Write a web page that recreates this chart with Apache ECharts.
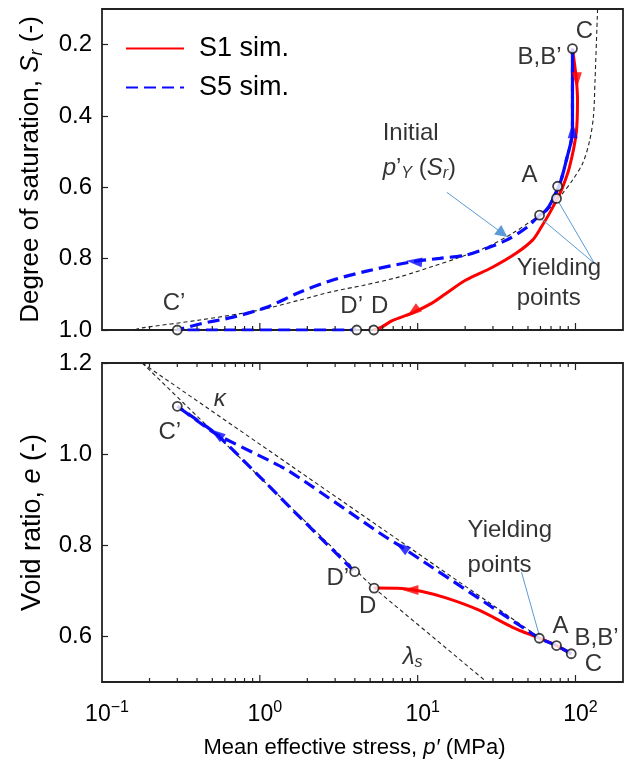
<!DOCTYPE html>
<html><head><meta charset="utf-8">
<script src="https://cdn.jsdelivr.net/npm/echarts@6/dist/echarts.min.js"></script>
<style>html,body{margin:0;padding:0;background:#fff}#c{width:629px;height:767px}</style>
</head><body><div id="c"></div>
<script>
// ---------------- data ----------------
const xMajorTicks = [1, 10, 100];
const xMinorTicks = [0.2,0.3,0.4,0.5,0.6,0.7,0.8,0.9,2,3,4,5,6,7,8,9,20,30,40,50,60,70,80,90];
const srTicks = [0.2, 0.4, 0.6, 0.8, 1.0];
const eTicks = [0.6, 0.8, 1.0, 1.2];

// Top panel: degree of saturation vs p'
const yieldCurveTop = [[138,0.10],[133,0.30],[130,0.40],[123,0.469],[111,0.533],[95.7,0.58],[82.8,0.617],[68.4,0.659],[53.4,0.692],[39.9,0.729],[27.3,0.768],[17.7,0.799],[12.4,0.822],[7.69,0.851],[4.5,0.875],[2.9,0.892],[1.79,0.916],[1.0,0.944],[0.417,0.972],[0.18,0.994],[0.16,1.0]];
const s1Top = [[95.7,0.211],[101,0.292],[103,0.357],[101,0.449],[91.5,0.544],[82.8,0.600],[75.8,0.636],[68.4,0.673],[60.6,0.712],[53.4,0.748],[42.0,0.785],[29.8,0.824],[20.2,0.860],[15.2,0.897],[12.4,0.924],[9.27,0.952],[6.9,0.974],[5.9,0.992],[5.27,1.0]];
const s5TopUp = [[59.2,0.678],[65.3,0.664],[71.3,0.636],[79.7,0.589],[87.5,0.524],[95.7,0.441],[95.7,0.357],[95.7,0.211]];
const s5TopDown = [[95.7,0.211],[95.7,0.357],[95.7,0.441],[87.5,0.524],[79.7,0.589],[71.3,0.636],[65.3,0.664],[59.2,0.678],[49.3,0.712],[36.5,0.748],[27.3,0.771],[20.2,0.790],[13.8,0.799],[8.9,0.810],[4.75,0.835],[2.9,0.860],[1.79,0.894],[1.107,0.936],[0.675,0.964],[0.417,0.983],[0.30,1.0],[4.11,1.0]];
const pointsTop = [[95.7,0.211],[77,0.597],[75.8,0.631],[59.2,0.678],[0.30,1.0],[4.11,1.0],[5.27,1.0]];
const s1ArrowsTop = [[102,0.30],[9.3,0.95]];
const s5ArrowsTop = [[96,0.44],[9.5,0.808]];

// Bottom panel: void ratio vs p'
const kappaLine = [[0.18,1.2],[59,0.598]];
const lambdaLine = [[0.18,1.2],[5.3,0.706],[27.4,0.5]];
const s1Bottom = [[94,0.562],[75.8,0.580],[59,0.596],[39.9,0.620],[24.7,0.657],[15.3,0.684],[10.5,0.699],[8.0,0.705],[5.3,0.706]];
const s5BottomUnload = [[94,0.562],[75.8,0.580],[59,0.596],[7.69,0.799],[5.74,0.827],[1.48,0.966],[0.535,1.043],[0.30,1.105]];
const s5BottomReload = [[0.30,1.105],[0.535,1.043],[1.79,0.862],[3.99,0.742]];
const pointsBottom = [[0.30,1.105],[3.99,0.742],[5.3,0.706],[59,0.596],[75.8,0.580],[94,0.562]];
const s1ArrowsBottom = [[9.0,0.702]];
const s5ArrowsBottom = [[7.9,0.797],[0.53,1.045]];

// annotation text anchors  [p, value, text, align]
const notesTop = [
  [114,0.164,'C','center'],[59.2,0.236,'B,B’','center'],[51.2,0.566,'A','center'],
  [6.0,0.449,'Initial','left'],[6.0,0.547,'{i|p}’{sub|Y} ({i|S}{sub|r})','left'],
  [42.4,0.827,'Yielding','left'],[42.4,0.91,'points','left'],
  [0.286,0.924,'C’','center'],[3.82,0.933,'D’','center'],[5.74,0.933,'D','center']
];
const notesBottom = [
  [0.558,1.121,'{i|κ}','center'],[0.269,1.048,'C’','center'],[3.12,0.728,'D’','center'],
  [4.83,0.666,'D','center'],[9.29,0.554,'{i|λ}{sub|s}','center'],
  [20.7,0.832,'Yielding','left'],[20.7,0.757,'points','left'],
  [80.4,0.622,'A','center'],[136,0.596,'B,B’','center'],[130,0.538,'C','center']
];
const pointerTop = [[[15.3,0.614],[34.5,0.729]]];
const leaderTop = [[[131.8,0.813],[75.8,0.631]],[[131.8,0.813],[59.2,0.684]]];
const leaderBottom = [[[45.5,0.741],[59,0.602]]];

// ---------------- chart ----------------
const FONT = '"Liberation Sans", Arial, sans-serif';
const RED = '#ff0000', BLUE = '#0a0aff', ANN = '#5b9bd5', INK = '#000', FRAME = '#222';
const chart = echarts.init(document.getElementById('c'));

function supLabel(v){
  const l = Math.log10(v), e = Math.round(l);
  if (Math.abs(l - e) > 1e-6 || e > 2) return '';
  return '{b|10}{s|' + (e < 0 ? '−' + (-e) : e) + '}';
}
function tickSeries(xi, yi, edges){
  const data = xMajorTicks.map(v => [v, 1]).concat(xMinorTicks.map(v => [v, 0]));
  return {
    type:'custom', xAxisIndex:xi, yAxisIndex:yi, silent:true, z:5, clip:false,
    data,
    renderItem(params, api){
      const v = api.value(0), major = api.value(1);
      const children = edges.map(([yv, dir]) => {
        const p = api.coord([v, yv]);
        const L = major ? 7 : 4;
        return {type:'line', shape:{x1:p[0], y1:p[1], x2:p[0], y2:p[1] + dir*L},
                style:{stroke:FRAME, lineWidth:1.2}};
      });
      return {type:'group', children};
    }
  };
}
function arrowSeries(xi, yi, pts, rots, color){
  return {type:'scatter', xAxisIndex:xi, yAxisIndex:yi, silent:true, z:8,
    symbol:'triangle', symbolSize:[10,16],
    data: pts.map((p,i) => ({value:p, symbolRotate:rots[i]})),
    itemStyle:{color}};
}
function pointSeries(xi, yi, pts){
  return {type:'scatter', xAxisIndex:xi, yAxisIndex:yi, silent:true, z:9,
    symbol:'circle', symbolSize:9, data:pts,
    itemStyle:{color:'#fff', borderColor:'#111', borderWidth:1.8}};
}
const NOTE_FS = 24;
const noteRich = {
  i:{fontStyle:'italic', fontSize:NOTE_FS, fontFamily:FONT, color:INK},
  sub:{fontStyle:'italic', fontSize:16, fontFamily:FONT, color:INK, padding:[10,0,0,0]}
};
function noteSeries(xi, yi, notes){
  return {type:'scatter', xAxisIndex:xi, yAxisIndex:yi, silent:true, z:10,
    symbolSize:0,
    data: notes.map(n => ({value:[n[0], n[1]], label:{formatter:n[2], align:n[3]}})),
    label:{show:true, position:'inside', fontSize:NOTE_FS, fontFamily:FONT, color:INK,
           verticalAlign:'middle', rich:noteRich}};
}
function leaderSeries(xi, yi, segs, arrow){
  return {type:'lines', coordinateSystem:'cartesian2d', xAxisIndex:xi, yAxisIndex:yi,
    silent:true, z:7, polyline:false,
    symbol: arrow ? ['none','triangle'] : ['none','none'], symbolSize: arrow ? 12 : 0,
    lineStyle:{color:ANN, width:1, opacity:1},
    data: segs.map(s => ({coords:s}))};
}
const lineBase = {type:'line', symbol:'none', showSymbol:false, silent:true, smooth:0.3};

const option = {
  animation:false,
  backgroundColor:'#fff',
  textStyle:{fontFamily:FONT},
  legend:{
    data:['S1 sim.','S5 sim.'], orient:'vertical', left:120, top:29,
    itemWidth:58, itemHeight:14, itemGap:10,
    itemStyle:{opacity:0},
    textStyle:{fontSize:27, lineHeight:29, fontFamily:FONT, color:INK, padding:[0,0,0,10]}
  },
  grid:[
    {left:102, right:6, top:9, height:321, show:true, borderColor:FRAME, borderWidth:1.8, backgroundColor:'transparent', outerBoundsMode:'none'},
    {left:102, right:6, top:363, height:319, show:true, borderColor:FRAME, borderWidth:1.8, backgroundColor:'transparent', outerBoundsMode:'none'}
  ],
  xAxis:[
    {gridIndex:0, type:'log', logBase:10, min:0.1, max:200,
     axisLine:{show:false}, axisTick:{show:false}, axisLabel:{show:false}, splitLine:{show:false}},
    {gridIndex:1, type:'log', logBase:10, min:0.1, max:200,
     axisLine:{show:false}, axisTick:{show:false}, splitLine:{show:false},
     axisLabel:{show:true, formatter:supLabel, margin:18, color:INK, fontFamily:FONT,
       showMinLabel:true, showMaxLabel:true, hideOverlap:false,
       rich:{b:{fontSize:23, fontFamily:FONT, color:INK, padding:[0,0,0,10]},
             s:{fontSize:16, fontFamily:FONT, color:INK, padding:[0,0,13,0]}}},
     name:'Mean effective stress, {i|p′} (MPa)', nameLocation:'middle', nameGap:55,
     nameTextStyle:{fontSize:22, fontFamily:FONT, color:INK, padding:[0,16,0,0],
       rich:{i:{fontStyle:'italic', fontSize:22, fontFamily:FONT, color:INK}}}}
  ],
  yAxis:[
    {gridIndex:0, type:'value', inverse:true, min:0.1, max:1.0,
     axisLine:{show:false}, splitLine:{show:false},
     axisTick:{show:true, inside:true, length:6, customValues:srTicks, lineStyle:{color:FRAME, width:1.2}},
     axisLabel:{show:true, customValues:srTicks, formatter:v => v.toFixed(1), fontSize:24, fontFamily:FONT, color:INK, margin:10},
     name:'Degree of saturation, {i|S}{sub|r} (-)', nameLocation:'middle', nameRotate:90, nameGap:56,
     nameTextStyle:{fontSize:26, fontFamily:FONT, color:INK,
       rich:{i:{fontStyle:'italic', fontSize:26, fontFamily:FONT, color:INK},
             sub:{fontStyle:'italic', fontSize:18, fontFamily:FONT, color:INK, padding:[12,0,0,0]}}}},
    {gridIndex:1, type:'value', min:0.5, max:1.2,
     axisLine:{show:false}, splitLine:{show:false},
     axisTick:{show:true, inside:true, length:6, customValues:eTicks, lineStyle:{color:FRAME, width:1.2}},
     axisLabel:{show:true, customValues:eTicks, formatter:v => v.toFixed(1), fontSize:24, fontFamily:FONT, color:INK, margin:10},
     name:'Void ratio, {i|e} (-)', nameLocation:'middle', nameRotate:90, nameGap:56,
     nameTextStyle:{fontSize:27, fontFamily:FONT, color:INK, rich:{i:{fontStyle:'italic', fontSize:27, fontFamily:FONT, color:INK}}}}
  ],
  series:[
    // ---- top panel ----
    Object.assign({}, lineBase, {name:'S1 sim.', xAxisIndex:0, yAxisIndex:0, z:3, data:s1Top,
      lineStyle:{color:RED, width:3}, itemStyle:{color:RED}}),
    Object.assign({}, lineBase, {name:'S5 sim.', xAxisIndex:0, yAxisIndex:0, z:4, data:s5TopUp,
      lineStyle:{color:BLUE, width:3.2, type:[12,6]}, itemStyle:{color:BLUE}}),
    Object.assign({}, lineBase, {name:'S5 sim.', xAxisIndex:0, yAxisIndex:0, z:4, data:s5TopDown,
      lineStyle:{color:BLUE, width:3.2, type:[12,6], dashOffset:6}, itemStyle:{color:BLUE}}),
    Object.assign({}, lineBase, {name:'yield', xAxisIndex:0, yAxisIndex:0, z:2, data:yieldCurveTop,
      lineStyle:{color:'#222', width:1.1, type:[4,3]}}),
    arrowSeries(0,0,s1ArrowsTop,[180,128],RED),
    arrowSeries(0,0,s5ArrowsTop,[0,84],BLUE),
    pointSeries(0,0,pointsTop),
    leaderSeries(0,0,pointerTop,true),
    leaderSeries(0,0,leaderTop,false),
    noteSeries(0,0,notesTop),
    tickSeries(0,0,[[1.0,-1]]),
    // ---- bottom panel ----
    Object.assign({}, lineBase, {name:'kappa', xAxisIndex:1, yAxisIndex:1, z:2, smooth:false, data:kappaLine,
      lineStyle:{color:'#222', width:1.1, type:[4,3]}}),
    Object.assign({}, lineBase, {name:'lambda', xAxisIndex:1, yAxisIndex:1, z:2, smooth:false, data:lambdaLine,
      lineStyle:{color:'#222', width:1.1, type:[4,3]}}),
    Object.assign({}, lineBase, {name:'S1 sim.', xAxisIndex:1, yAxisIndex:1, z:3, data:s1Bottom,
      lineStyle:{color:RED, width:3}, itemStyle:{color:RED}}),
    Object.assign({}, lineBase, {name:'S5 sim.', xAxisIndex:1, yAxisIndex:1, z:4, smooth:0.15, data:s5BottomUnload,
      lineStyle:{color:BLUE, width:3.2, type:[12,6]}, itemStyle:{color:BLUE}}),
    Object.assign({}, lineBase, {name:'S5 sim.', xAxisIndex:1, yAxisIndex:1, z:4, smooth:0.15, data:s5BottomReload,
      lineStyle:{color:BLUE, width:3.2, type:[12,6], dashOffset:5}, itemStyle:{color:BLUE}}),
    arrowSeries(1,1,s1ArrowsBottom,[90],RED),
    arrowSeries(1,1,s5ArrowsBottom,[55,55],BLUE),
    pointSeries(1,1,pointsBottom),
    leaderSeries(1,1,leaderBottom,false),
    noteSeries(1,1,notesBottom),
    tickSeries(1,1,[[0.5,-1],[1.2,1]])
  ]
};
chart.setOption(option);
</script></body></html>
